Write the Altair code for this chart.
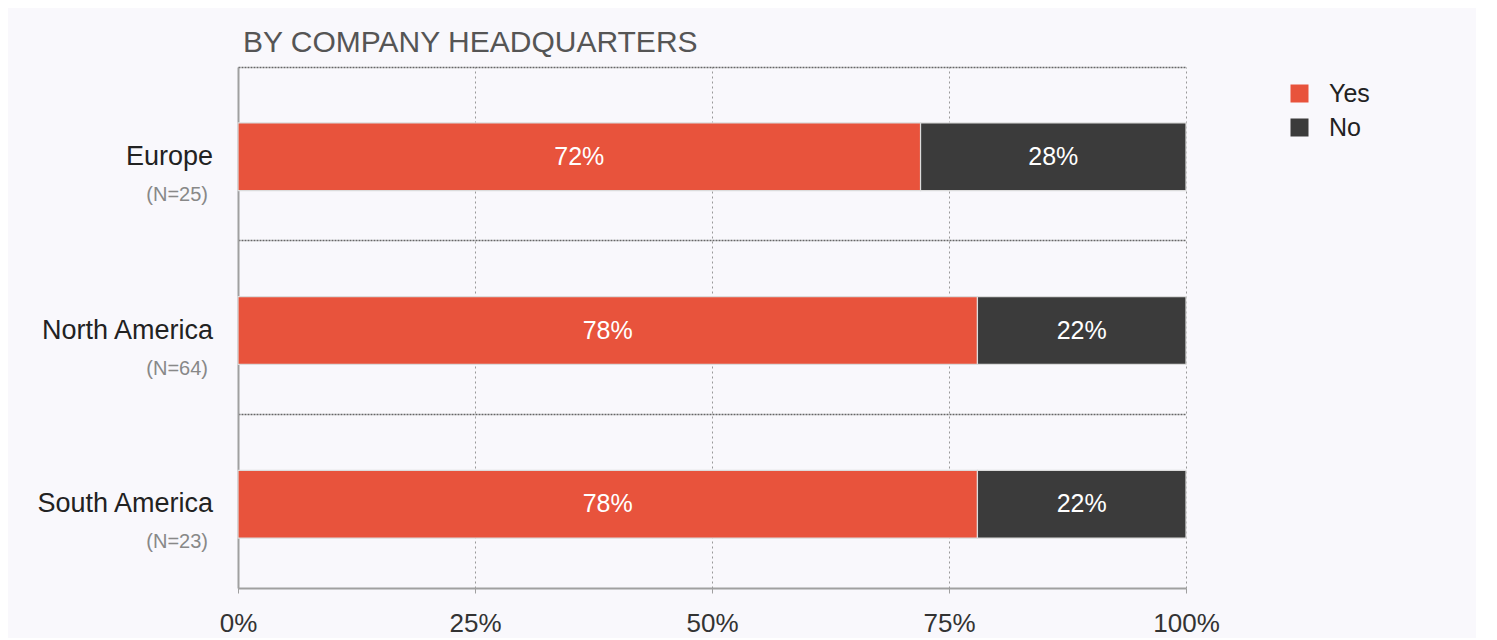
import altair as alt
import pandas as pd

regions = ["Europe", "North America", "South America"]
n_labels = ["(N=25)", "(N=64)", "(N=23)"]
yes_vals = [72, 78, 78]
no_vals = [28, 22, 22]
answers = ["Yes", "No"]
x_ticks = [0, 25, 50, 75, 100]

FONT = "Liberation Sans"
BG = "#f9f8fc"

rows = []
for r, y, n in zip(regions, yes_vals, no_vals):
    rows.append({"region": r, "answer": "Yes", "value": y, "ord": 0})
    rows.append({"region": r, "answer": "No", "value": n, "ord": 1})
df = pd.DataFrame(rows)
lab = pd.DataFrame({"region": regions, "n": n_labels})

xscale = alt.Scale(domain=[0, 100], nice=False, zero=True)
yscale = alt.Scale(domain=regions, paddingInner=0, paddingOuter=0)

base = alt.Chart(df).transform_stack(
    stack="value", groupby=["region"], as_=["x0", "x1"],
    sort=[alt.SortField("ord", order="ascending")]
).transform_calculate(
    mid="(datum.x0 + datum.x1) / 2", txt="datum.value + '%'"
)

bars = base.mark_bar(height=alt.RelativeBandSize(0.39), yOffset=3,
                     stroke="#dcdcdc", strokeWidth=1.2).encode(
    x=alt.X("x0:Q", scale=xscale, title=None,
            axis=alt.Axis(values=x_ticks, labelExpr="datum.value + '%'",
                          grid=True, gridDash=[2, 3], gridColor="#999",
                          gridWidth=1, domain=True, domainColor="#a0a0a0",
                          domainWidth=2, ticks=True, tickColor="#a0a0a0",
                          tickSize=5, labelFontSize=26, labelColor="#333",
                          labelPadding=17, labelFont=FONT, labelFlush=False)),
    x2="x1:Q",
    y=alt.Y("region:N", scale=yscale, sort=regions, title=None,
            axis=alt.Axis(labels=False, ticks=False, grid=True,
                          bandPosition=0, gridDash=[2, 1], gridColor="#666",
                          gridWidth=1.5, domain=True, domainColor="#a0a0a0",
                          domainWidth=2)),
    color=alt.Color("answer:N",
                    scale=alt.Scale(domain=answers, range=["#e8533c", "#3b3b3b"]),
                    legend=alt.Legend(title=None, orient="none", legendX=1049,
                                      legendY=14, symbolType="square",
                                      symbolSize=324, symbolStrokeWidth=0,
                                      labelFontSize=25, labelColor="#222",
                                      labelFont=FONT, labelOffset=17,
                                      rowPadding=8)),
)

texts = base.mark_text(color="white", fontSize=25, font=FONT, dy=3).encode(
    x=alt.X("mid:Q", scale=xscale),
    y=alt.Y("region:N", scale=yscale, sort=regions),
    text="txt:N",
)

cat = alt.Chart(lab).mark_text(align="right", fontSize=27, font=FONT,
                               color="#222", dy=3).encode(
    x=alt.value(-25),
    y=alt.Y("region:N", scale=yscale, sort=regions),
    text="region:N",
)
nlab = alt.Chart(lab).mark_text(align="right", fontSize=20, font=FONT,
                                color="#888", dy=41).encode(
    x=alt.value(-30),
    y=alt.Y("region:N", scale=yscale, sort=regions),
    text="n:N",
)

chart = alt.layer(bars, texts, cat, nlab).properties(
    width=948, height=521,
    title=alt.TitleParams("BY COMPANY HEADQUARTERS", anchor="start",
                          frame="group", fontSize=30, font=FONT,
                          fontWeight="normal", color="#555", dx=5, offset=9),
    autosize=alt.AutoSizeParams(type="none"),
    padding={"left": 230, "top": 59, "right": 290, "bottom": 50},
    background=BG,
).configure_view(stroke=None)

chart.save("out.html", embed_options={"renderer": "svg", "actions": False})
